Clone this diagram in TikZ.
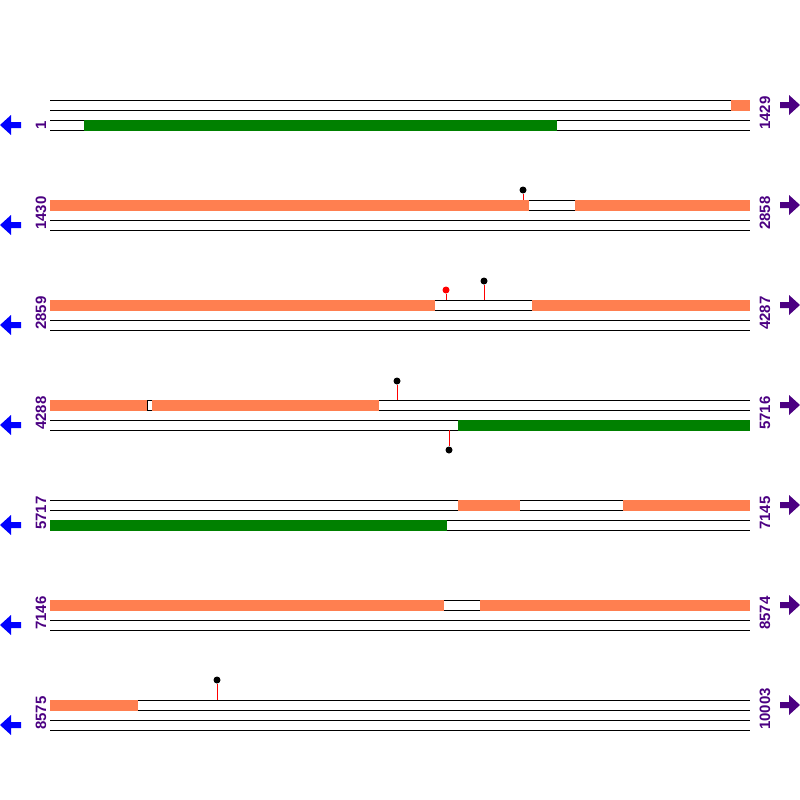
\documentclass[tikz,border=0pt]{standalone}
\usepackage{fontspec}
\setmainfont{Liberation Sans}
\usepackage{xcolor}
\usepackage{tikz}
\usetikzlibrary{positioning, calc}
\definecolor{OrfOrange}{HTML}{FF7F50}
\definecolor{OrfGreen}{HTML}{008000}
\definecolor{PosLabel}{HTML}{4B0082}
\definecolor{StrandBlue}{HTML}{0000FF}
\tikzset{
  track/.style={draw=black, line width=1pt},
  fwdorf/.style={fill=OrfOrange, draw=none},
  revorf/.style={fill=OrfGreen, draw=none},
  poslabel/.style={rotate=90, anchor=west, inner sep=0pt, text=PosLabel,
    font=\fontsize{15}{15}\selectfont\bfseries},
  pinhead/.style={circle, fill=black, inner sep=0pt, minimum size=7pt},
  pinheadred/.style={pinhead, fill=red},
  stem/.style={draw=red, line width=1pt},
  revarrow/.style={fill=StrandBlue, draw=none},
  fwdarrow/.style={fill=PosLabel, draw=none},
}
\begin{document}
\begin{tikzpicture}[x=1pt, y=-1pt]
  \useasboundingbox (0,0) rectangle (800,800);

  % Track lines and strand arrows for every row
  \foreach \r in {100,200,...,700} {
    \foreach \t in {0,10,20,30}
      \draw[track] (50,\r+\t) -- (750,\r+\t);
    \fill[revarrow] (0,\r+25) -- (11,\r+15) -- (11,\r+22) -- (21,\r+22)
      -- (21,\r+28) -- (11,\r+28) -- (11,\r+35) -- cycle;
    \fill[fwdarrow] (800,\r+5) -- (789,\r-5) -- (789,\r+2) -- (780,\r+2)
      -- (780,\r+8) -- (789,\r+8) -- (789,\r+15) -- cycle;
  }

  % Row 1
  \fill[fwdorf] (731,99.5) rectangle (750,110.5);
  \fill[revorf] (84,119.5) rectangle (557,130.5);
  \node[poslabel] (l1) at (41,130) {1};
  \node[poslabel] (r1) at (765,130) {1429};

  % Row 2
  \fill[fwdorf] (50,199.5) rectangle (529,210.5);
  \fill[fwdorf] (575,199.5) rectangle (750,210.5);
  \coordinate (p2) at (523,200);
  \node[pinhead] (h2) at (523,190) {};
  \draw[stem] (p2) -- (h2);
  \node[poslabel] (l2) at (41,230) {1430};
  \node[poslabel] (r2) at (765,230) {2858};

  % Row 3
  \fill[fwdorf] (50,299.5) rectangle (435,310.5);
  \fill[fwdorf] (532,299.5) rectangle (750,310.5);
  \coordinate (p3a) at (446,300);
  \node[pinheadred] (h3a) at (446,290) {};
  \draw[stem] (p3a) -- (h3a);
  \coordinate (p3b) at (484,300);
  \node[pinhead] (h3b) at (484,281) {};
  \draw[stem] (p3b) -- (h3b);
  \node[poslabel] (l3) at (41,330) {2859};
  \node[poslabel] (r3) at (765,330) {4287};

  % Row 4
  \fill[fwdorf] (50,399.5) rectangle (147,410.5);
  \fill[fwdorf] (152,399.5) rectangle (379,410.5);
  \draw[track] (147.5,400) -- (147.5,410);
  \fill[revorf] (458,419.5) rectangle (750,430.5);
  \coordinate (p4a) at (397,400);
  \node[pinhead] (h4a) at (397,381) {};
  \draw[stem] (p4a) -- (h4a);
  \coordinate (p4b) at (449,430);
  \node[pinhead] (h4b) at (449,450) {};
  \draw[stem] (p4b) -- (h4b);
  \node[poslabel] (l4) at (41,430) {4288};
  \node[poslabel] (r4) at (765,430) {5716};

  % Row 5
  \fill[fwdorf] (458,499.5) rectangle (520,510.5);
  \fill[fwdorf] (623,499.5) rectangle (750,510.5);
  \fill[revorf] (50,519.5) rectangle (447,530.5);
  \node[poslabel] (l5) at (41,530) {5717};
  \node[poslabel] (r5) at (765,530) {7145};

  % Row 6
  \fill[fwdorf] (50,599.5) rectangle (444,610.5);
  \fill[fwdorf] (480,599.5) rectangle (750,610.5);
  \node[poslabel] (l6) at (41,630) {7146};
  \node[poslabel] (r6) at (765,630) {8574};

  % Row 7
  \fill[fwdorf] (50,699.5) rectangle (138,710.5);
  \coordinate (p7) at (217,700);
  \node[pinhead] (h7) at (217,680) {};
  \draw[stem] (p7) -- (h7);
  \node[poslabel] (l7) at (41,730) {8575};
  \node[poslabel] (r7) at (765,730) {10003};

\end{tikzpicture}
\end{document}
